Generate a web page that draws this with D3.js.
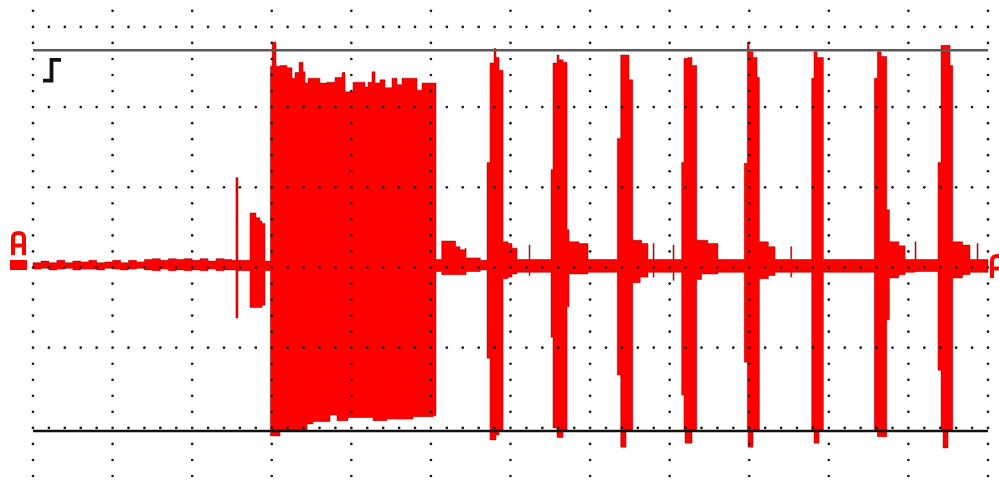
<!DOCTYPE html>
<html>
<head>
<meta charset="utf-8">
<script src="https://cdn.jsdelivr.net/npm/d3@7"></script>
<style>
  body { margin: 0; background: #fff; }
  svg { display: block; }
</style>
</head>
<body>
<div id="scope"></div>
<script>
const W = 999, H = 483;

// 10 ms/div over 12 divisions, 1 V/div
const timeDomain = [0, 120];
const voltDomain = [-3, 3];
const cursorHigh = 2.71;
const cursorLow = -2.04;

// trace envelope, [time ms, volts], held until the next point
const idleUpper = [[0,0.06],[1,0.08],[2,0.06],[3,0.09],[4,0.06],[5,0.08],[6,0.07],[7,0.09],[8,0.06],[9,0.07],
  [10,0.09],[11,0.06],[12,0.09],[13,0.07],[14,0.10],[15,0.11],[16,0.09],[17,0.11],[18,0.10],[19,0.11],
  [20,0.09],[21,0.11],[22,0.08],[23,0.11],[24,0.10],[25,0.09]];
const idleLower = [[0,-0.02],[1,-0.01],[2,-0.03],[3,-0.02],[4,-0.01],[5,-0.03],[6,-0.02],[7,-0.02],[8,-0.03],[9,-0.01],
  [10,-0.02],[11,-0.03],[12,-0.02],[13,-0.01],[14,-0.03],[15,-0.04],[16,-0.02],[17,-0.04],[18,-0.03],[19,-0.04],
  [20,-0.03],[21,-0.04],[22,-0.02],[23,-0.04],[24,-0.03],[25,-0.03]];

const burstUpper = [[25.5,1.12],[25.76,0.09],[27.27,0.68],[28.02,0.62],[28.5,0.58],[28.78,0.55],[29.15,0.08]];
const burstLower = [[25.5,-0.63],[25.76,-0.04],[27.27,-0.50],[28.78,-0.47],[29.15,-0.04]];

const blockUpper = [[29.84,2.51],[30.05,2.81],[30.54,2.51],[31.04,2.52],[31.92,2.49],[32.55,2.36],[32.92,2.43],
  [33.43,2.56],[33.93,2.44],[34.18,2.30],[34.56,2.36],[36.06,2.30],[36.94,2.31],[37.95,2.37],[38.83,2.43],
  [39.21,2.19],[40.21,2.31],[41.72,2.25],[42.10,2.31],[42.60,2.44],[42.98,2.30],[43.60,2.34],[44.23,2.24],
  [45.11,2.36],[45.74,2.28],[46.37,2.36],[48.25,2.21],[48.88,2.30],[50.64,0.10]];
const blockLower = [[29.84,-2.10],[31.04,-2.03],[34.43,-1.95],[35.18,-1.92],[37.32,-1.84],[38.20,-1.91],
  [39.58,-1.87],[42.73,-1.91],[44.48,-1.89],[47.75,-1.86],[50.26,-1.85],[50.64,-0.05]];

const tailUpper = [[51.36,0.33],[53.1,0.26],[53.66,0.22],[54.29,0.24],[54.42,0.12],[56.2,0.09]];
const tailLower = [[51.36,-0.09],[53.66,-0.09],[54.42,-0.05],[56.2,-0.03]];

const pulseUpper = [
  [[57.05,1.31],[57.43,2.55],[57.93,2.73],[58.18,2.62],[58.56,2.46],[59.06,0.32],[59.69,0.30],[60.19,0.24],[60.82,0.10],[62.33,0.28],[62.45,0.10]],
  [[65.09,1.22],[65.34,2.55],[65.84,2.65],[66.09,2.59],[66.60,2.56],[67.10,0.47],[67.35,0.32],[68.6,0.30],[69.74,0.10]],
  [[73.42,1.61],[73.85,2.65],[74.89,2.34],[75.36,0.34],[76.5,0.30],[77.28,0.10],[77.91,0.30],[78.04,0.10],[80.42,0.28],[80.55,0.10]],
  [[81.51,1.31],[81.80,2.61],[82.30,2.62],[82.81,2.52],[83.40,0.34],[84.8,0.30],[86.07,0.10]],
  [[89.38,1.30],[89.76,2.81],[89.97,2.69],[90.47,2.62],[90.98,2.37],[91.27,0.32],[92.4,0.26],[93.24,0.10],[95.21,0.26],[95.34,0.10]],
  [[97.85,2.36],[98.14,2.69],[98.52,2.62],[99.31,0.10]],
  [[105.72,2.36],[106.10,2.69],[106.57,2.63],[107.28,0.72],[107.61,0.32],[108.8,0.27],[109.58,0.10],[110.83,0.32],[110.96,0.10]],
  [[113.72,1.31],[114.10,2.77],[115.24,2.52],[115.57,0.32],[116.8,0.28],[117.74,0.10],[118.62,0.30],[118.75,0.10],[120,0.10]]
];
const pulseLower = [
  [[57.05,-1.13],[57.43,-2.15],[58.18,-2.09],[58.56,-2.03],[59.06,-0.14],[59.69,-0.12],[60.19,-0.08],[60.82,-0.06],[62.33,-0.10],[62.45,-0.06]],
  [[65.09,-0.87],[65.34,-2.00],[65.84,-2.12],[66.60,-2.03],[67.10,-0.49],[67.35,-0.08],[69.74,-0.06]],
  [[73.42,-1.34],[73.85,-2.24],[74.52,-2.03],[75.36,-0.19],[76.3,-0.12],[77.28,-0.06],[77.91,-0.12],[78.04,-0.06],[80.42,-0.16],[80.55,-0.06]],
  [[81.51,-1.59],[81.80,-2.03],[81.93,-2.19],[82.81,-2.03],[83.40,-0.15],[84.0,-0.08],[86.07,-0.06]],
  [[89.38,-1.18],[89.76,-2.03],[89.85,-2.24],[90.47,-2.03],[91.27,-0.14],[92.4,-0.10],[93.24,-0.06],[95.21,-0.12],[95.34,-0.06]],
  [[97.85,-2.03],[98.14,-2.19],[98.77,-2.03],[99.31,-0.06]],
  [[105.72,-2.03],[106.10,-2.11],[107.28,-0.65],[107.61,-0.13],[108.8,-0.09],[109.58,-0.06],[110.83,-0.05]],
  [[113.72,-1.28],[114.10,-2.03],[114.35,-2.25],[114.98,-2.03],[115.57,-0.13],[116.8,-0.09],[117.74,-0.06],[120,-0.06]]
];

const x = d3.scaleLinear().domain(timeDomain).range([33, 988]);
const y = d3.scaleLinear().domain(voltDomain).range([508.1, 26.9]);

const svg = d3.select("#scope")
  .append("svg")
  .attr("width", W)
  .attr("height", H);

// merge the two envelopes onto common time points
const upper = [].concat(idleUpper, burstUpper, blockUpper, tailUpper, ...pulseUpper).sort((a, b) => a[0] - b[0]);
const lower = [].concat(idleLower, burstLower, blockLower, tailLower, ...pulseLower).sort((a, b) => a[0] - b[0]);
const held = (env, t) => {
  let v = env[0][1];
  for (const d of env) { if (d[0] <= t) v = d[1]; else break; }
  return v;
};
const times = Array.from(new Set(upper.map(d => d[0]).concat(lower.map(d => d[0])))).sort((a, b) => a - b);
const trace = times.map(t => ({ t, hi: held(upper, t), lo: held(lower, t) }));

svg.append("path")
  .datum(trace)
  .attr("fill", "#ff0000")
  .attr("stroke", "#8a0000")
  .attr("stroke-width", 0.5)
  .attr("d", d3.area()
    .x(d => x(d.t))
    .y0(d => y(d.lo))
    .y1(d => y(d.hi))
    .curve(d3.curveStepAfter));

// cursor levels
svg.append("line")
  .attr("x1", x(0)).attr("x2", x(120))
  .attr("y1", y(cursorHigh)).attr("y2", y(cursorHigh))
  .attr("stroke", "#5a5a5a").attr("stroke-width", 2.5);
svg.append("line")
  .attr("x1", x(0)).attr("x2", x(120))
  .attr("y1", y(cursorLow)).attr("y2", y(cursorLow))
  .attr("stroke", "#111").attr("stroke-width", 2.5);

// dotted graticule, 5 dots per division
const cols = d3.range(0, 121, 10);
const rows = d3.range(-2, 4);
const grid = svg.append("g").attr("fill", "#1c1c1c");
cols.forEach(t => {
  d3.range(-13, 17).forEach(k => {
    grid.append("circle").attr("cx", x(t)).attr("cy", y(k / 5)).attr("r", 1.35);
  });
});
rows.forEach(v => {
  d3.range(0, 121, 2).filter(t => t % 10 !== 0).forEach(t => {
    grid.append("circle").attr("cx", x(t)).attr("cy", y(v)).attr("r", 1.35);
  });
});

// trigger edge symbol
svg.append("path")
  .attr("d", `M${x(0) + 10},${y(2.33)} H${x(0) + 18.5} V${y(2.59)} H${x(0) + 28}`)
  .attr("fill", "none")
  .attr("stroke", "#111")
  .attr("stroke-width", 3.8);

// channel A markers
const markA = (g) => g.append("path")
  .attr("d", "M2,23 V6 Q2,1 7.5,1 Q13,1 13,6 V23 M2,13.5 H13")
  .attr("fill", "none")
  .attr("stroke", "#ff0000")
  .attr("stroke-width", 4);
markA(svg.append("g").attr("transform", `translate(11,${y(0) - 35.5})`));
svg.append("rect")
  .attr("x", 10).attr("y", y(0) - 7.5)
  .attr("width", 17).attr("height", 10)
  .attr("fill", "#ff0000");
markA(svg.append("g").attr("transform", `translate(990,${y(0) - 12.5})`));
</script>
</body>
</html>
